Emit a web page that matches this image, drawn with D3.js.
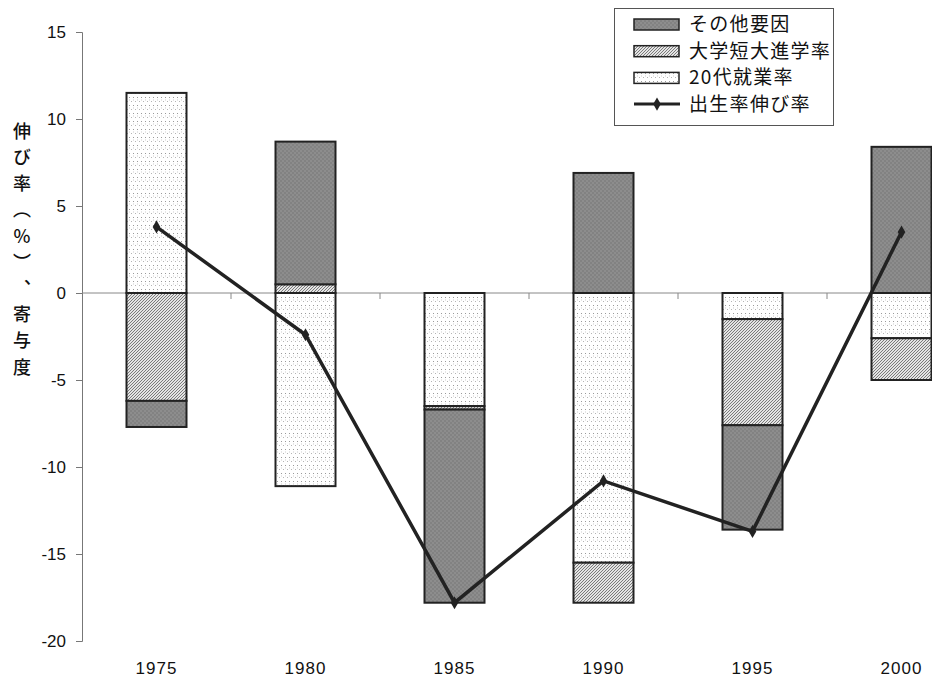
<!DOCTYPE html>
<html>
<head>
<meta charset="utf-8">
<script src="https://cdn.jsdelivr.net/npm/d3@7"></script>
<style>
  html, body { margin: 0; padding: 0; background: #fff; }
  svg { display: block; }
  text { font-family: "Noto Sans CJK JP", "Noto Sans", sans-serif; fill: #111; }
</style>
</head>
<body>
<svg id="chart" width="932" height="679"></svg>
<script>
// Years on the x axis
const years = ["1975", "1980", "1985", "1990", "1995", "2000"];
// Contributions (percentage points) of each factor
const employment20s = [11.5, -11.1, -6.5, -15.5, -1.5, -2.6];   // 20代就業率
const collegeRate   = [-6.2, 0.5, -0.2, -2.3, -6.1, -2.4];      // 大学短大進学率
const otherFactors  = [-1.5, 8.2, -11.1, 6.9, -6.0, 8.4];       // その他要因
// Birth-rate growth (%)
const birthGrowth   = [3.8, -2.4, -17.8, -10.8, -13.7, 3.5];    // 出生率伸び率
const yTicks = [15, 10, 5, 0, -5, -10, -15, -20];
const yTitle = "伸び率（%）、寄与度";

const seriesKeys = ["emp", "col", "oth"];
const seriesNames = { oth: "その他要因", col: "大学短大進学率", emp: "20代就業率" };

const svg = d3.select("#chart");
const defs = svg.append("defs");

// Fill patterns
const pOth = defs.append("pattern").attr("id", "pat-oth").attr("patternUnits", "userSpaceOnUse")
  .attr("width", 4).attr("height", 4);
pOth.append("rect").attr("width", 4).attr("height", 4).attr("fill", "#8d8d8d");
pOth.append("rect").attr("width", 2).attr("height", 2).attr("fill", "#828282");
pOth.append("rect").attr("x", 2).attr("y", 2).attr("width", 2).attr("height", 2).attr("fill", "#828282");

const pCol = defs.append("pattern").attr("id", "pat-col").attr("patternUnits", "userSpaceOnUse")
  .attr("width", 3).attr("height", 3);
pCol.append("rect").attr("width", 3).attr("height", 3).attr("fill", "#e4e4e4");
pCol.append("path").attr("d", "M-1,1 L1,-1 M0,3 L3,0 M2,4 L4,2")
  .attr("stroke", "#7a7a7a").attr("stroke-width", 1);

const pEmp = defs.append("pattern").attr("id", "pat-emp").attr("patternUnits", "userSpaceOnUse")
  .attr("width", 8).attr("height", 8);
pEmp.append("rect").attr("width", 8).attr("height", 8).attr("fill", "#fff");
pEmp.append("rect").attr("x", 1).attr("y", 1).attr("width", 1).attr("height", 1).attr("fill", "#9a9a9a");
pEmp.append("rect").attr("x", 5).attr("y", 1).attr("width", 1).attr("height", 1).attr("fill", "#9a9a9a");
pEmp.append("rect").attr("x", 3).attr("y", 5).attr("width", 1).attr("height", 1).attr("fill", "#b4b4b4");
pEmp.append("rect").attr("x", 7).attr("y", 5).attr("width", 1).attr("height", 1).attr("fill", "#b4b4b4");
pEmp.append("rect").attr("x", 1).attr("y", 3).attr("width", 1).attr("height", 2).attr("fill", "#e6e6e6");
pEmp.append("rect").attr("x", 5).attr("y", 3).attr("width", 1).attr("height", 2).attr("fill", "#e6e6e6");

const fills = { oth: "url(#pat-oth)", col: "url(#pat-col)", emp: "url(#pat-emp)" };

// Scales
const x0 = 82;
const bandStep = 149;
const x = d3.scaleBand().domain(years).range([x0, x0 + bandStep * years.length]).paddingInner(0).paddingOuter(0);
const y = d3.scaleLinear().domain([-20, 15]).range([641, 32]);
const barW = 60;

// Stacked data
const table = years.map((yr, i) => ({ year: yr, emp: employment20s[i], col: collegeRate[i], oth: otherFactors[i] }));
const stacked = d3.stack().keys(seriesKeys).offset(d3.stackOffsetDiverging)(table);

// Y axis
const yAxis = d3.axisLeft(y).tickValues(yTicks).tickSize(6).tickPadding(10)
  .tickFormat(d => d < 0 ? "-" + Math.abs(d) : String(d));
const gy = svg.append("g").attr("transform", `translate(${x0},0)`).call(yAxis);
gy.select(".domain").attr("stroke", "#777").attr("stroke-width", 1);
gy.selectAll(".tick line").attr("stroke", "#777");
gy.selectAll(".tick text").attr("font-size", 17).style("font-family", "'Liberation Sans', Arial, sans-serif").attr("fill", "#111");

// Zero line with category boundary ticks
svg.append("line").attr("x1", x0).attr("x2", 932).attr("y1", y(0)).attr("y2", y(0))
  .attr("stroke", "#888").attr("stroke-width", 1);
svg.selectAll(".xtick").data(years.slice(1)).enter().append("line")
  .attr("x1", d => x(d)).attr("x2", d => x(d))
  .attr("y1", y(0)).attr("y2", y(0) + 6)
  .attr("stroke", "#888");

// Bars
const layers = svg.append("g").selectAll("g").data(stacked).enter().append("g")
  .attr("fill", d => fills[d.key]);
layers.selectAll("rect").data(d => d).enter().append("rect")
  .attr("x", d => x(d.data.year) + x.bandwidth() / 2 - barW / 2)
  .attr("width", barW)
  .attr("y", d => y(Math.max(d[0], d[1])))
  .attr("height", d => Math.abs(y(d[0]) - y(d[1])))
  .attr("stroke", "#222").attr("stroke-width", 2);

// X labels
svg.selectAll(".xlabel").data(years).enter().append("text")
  .attr("x", d => x(d) + x.bandwidth() / 2).attr("y", 674)
  .attr("text-anchor", "middle").attr("font-size", 17).attr("letter-spacing", 1)
  .style("font-family", "'Liberation Sans', Arial, sans-serif")
  .text(d => d);

// Line of birth-rate growth
const cx = i => x(years[i]) + x.bandwidth() / 2;
const line = d3.line().x((d, i) => cx(i)).y(d => y(d));
svg.append("path").datum(birthGrowth).attr("d", line)
  .attr("fill", "none").attr("stroke", "#222").attr("stroke-width", 3.5).attr("stroke-linejoin", "miter");
const diamond = d3.symbol().type(d3.symbolDiamond).size(50);
svg.selectAll(".mk").data(birthGrowth).enter().append("path")
  .attr("d", diamond).attr("transform", (d, i) => `translate(${cx(i)},${y(d)})`)
  .attr("fill", "#222");

// Y axis title, one character per row (vertical forms for brackets)
const titleG = svg.append("g");
Array.from(yTitle).forEach((ch, i) => {
  titleG.append("text")
    .attr("x", 22).attr("y", 122 + i * 26.2)
    .style("writing-mode", "vertical-rl")
    .style("text-orientation", "upright")
    .attr("font-size", 18).attr("font-weight", 500)
    .text(ch);
});

// Legend
const lg = svg.append("g");
lg.append("rect").attr("x", 614.5).attr("y", 8.5).attr("width", 219).attr("height", 117)
  .attr("fill", "#fff").attr("stroke", "#555").attr("stroke-width", 1);
const legendItems = ["oth", "col", "emp"];
legendItems.forEach((k, i) => {
  const cy = 24 + i * 26.7;
  lg.append("rect").attr("x", 634).attr("y", cy - 5).attr("width", 45).attr("height", 11)
    .attr("fill", fills[k]).attr("stroke", "#222").attr("stroke-width", 1.5);
  lg.append("text").attr("x", 689).attr("y", cy + 7).attr("font-size", 19).attr("letter-spacing", 1.3).text(seriesNames[k]);
});
const ly = 24 + 3 * 26.7;
lg.append("line").attr("x1", 634).attr("x2", 680).attr("y1", ly).attr("y2", ly)
  .attr("stroke", "#222").attr("stroke-width", 3);
lg.append("path").attr("d", diamond).attr("transform", `translate(657,${ly})`).attr("fill", "#222");
lg.append("text").attr("x", 689).attr("y", ly + 7).attr("font-size", 19).attr("letter-spacing", 1.3).text("出生率伸び率");
</script>
</body>
</html>
